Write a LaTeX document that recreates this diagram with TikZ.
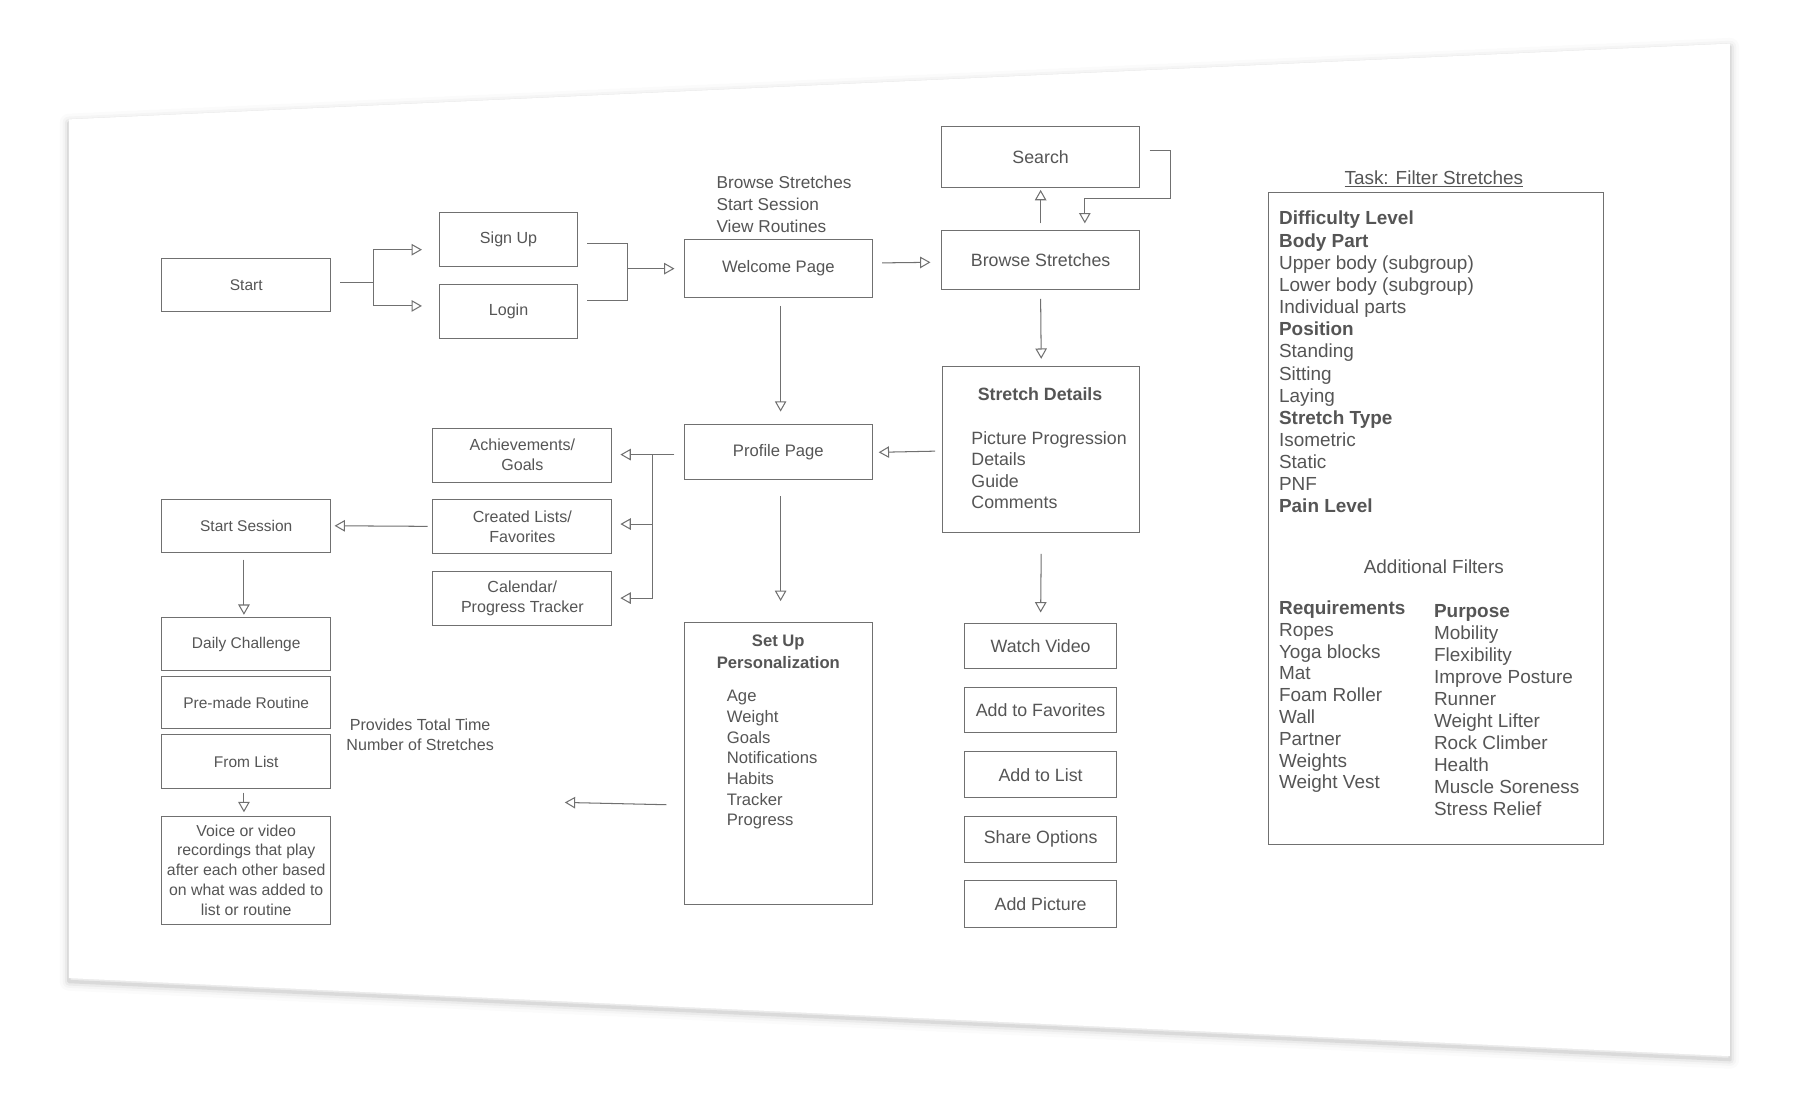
\documentclass[tikz,border=0pt]{standalone}
\usepackage{fontspec}
\setmainfont{Liberation Sans}
\usepackage{tikz}
\usetikzlibrary{arrows.meta,calc}
\definecolor{inkgray}{HTML}{555555}
\definecolor{linegray}{HTML}{707070}
\newcommand{\fs}[2]{\fontsize{#1}{#2}\selectfont}
\tikzset{
  box/.style={draw=linegray, line width=0.9pt, fill=white, text=inkgray, align=center, inner sep=0pt},
  txt/.style={text=inkgray, inner sep=0pt},
  link/.style={draw=linegray, line width=0.9pt},
  arr/.style={link, -{Triangle[open, length=9pt, width=10pt]}},
}

\begin{document}
\begin{tikzpicture}[x=1pt, y=-1pt]
\useasboundingbox (0,0) rectangle (1568,961.7);

% sheet and its shadow
\foreach \w/\o in {16/0.015, 11/0.025, 7/0.04, 3/0.07}
  \draw[line width=\w pt, draw=black, opacity=\o, line join=round] (60,107) -- (1507,41) -- (1507,923) -- (60,855) -- cycle;
\fill[white] (60,104) -- (1507,38) -- (1507,920) -- (60,852) -- cycle;

\node[box, minimum width=147pt, minimum height=46pt, font=\fs{13.5}{16}] (start) at (214.5,248) {Start};
\node[box, minimum width=120pt, minimum height=47pt, font=\fs{14}{17}] (signup) at (443,208.5) {Sign Up};
\node[box, minimum width=120pt, minimum height=47pt, font=\fs{14}{17}] (login) at (443,271.5) {Login};
\node[box, minimum width=164pt, minimum height=50pt, font=\fs{14.5}{17}] (welcome) at (678,234) {Welcome Page};
\node[txt, align=left, anchor=west, font=\fs{15}{19.5}] (menu) at (624,178) {Browse Stretches\\Start Session\\View Routines};

\node[box, minimum width=173pt, minimum height=53pt, font=\fs{15.5}{18}] (search) at (906.5,136.5) {Search};
\node[box, minimum width=173pt, minimum height=51pt, font=\fs{15.5}{18}] (browse) at (906.5,226.5) {Browse Stretches};
\node[box, minimum width=172pt, minimum height=145pt] (details) at (907,391.5) {};
\node[txt, font=\bfseries\fs{15.5}{18}] (detailtitle) at (906,343) {Stretch Details};
\node[txt, align=left, anchor=west, font=\fs{15.5}{18.4}] (detaillist) at (846,409.5) {Picture Progression\\Details\\Guide\\Comments};

\node[box, minimum width=164pt, minimum height=48pt, font=\fs{14.5}{17}] (profile) at (678,394) {Profile Page};
\node[box, minimum width=156pt, minimum height=47pt, font=\fs{14}{17.5}] (achieve) at (455,396.5) {Achievements/\\Goals};
\node[box, minimum width=156pt, minimum height=47pt, font=\fs{14}{17.5}] (created) at (455,458.5) {Created Lists/\\Favorites};
\node[box, minimum width=156pt, minimum height=47pt, font=\fs{14}{17.5}] (calendar) at (455,521.5) {Calendar/\\Progress Tracker};

\node[box, minimum width=147pt, minimum height=46pt, font=\fs{13.5}{16}] (session) at (214.5,458) {Start Session};
\node[box, minimum width=147pt, minimum height=46pt, font=\fs{13.5}{16}] (daily) at (214.5,561) {Daily Challenge};
\node[box, minimum width=147pt, minimum height=46pt, font=\fs{13.5}{16}] (premade) at (214.5,612) {Pre-made Routine};
\node[box, minimum width=147pt, minimum height=47pt, font=\fs{13.5}{16}] (fromlist) at (214.5,663.5) {From List};
\node[box, minimum width=147pt, minimum height=94pt, font=\fs{13.8}{17.3}] (voice) at (214.5,758) {Voice or video\\recordings that play\\after each other based\\on what was added to\\list or routine};
\node[txt, align=center, font=\fs{14}{17}] (provides) at (366,640) {Provides Total Time\\Number of Stretches};

\node[box, minimum width=164pt, minimum height=246pt] (setup) at (678,665) {};
\node[txt, align=center, font=\bfseries\fs{14.5}{19}] (setuptitle) at (678,567.5) {Set Up\\Personalization};
\node[txt, align=left, anchor=west, font=\fs{14.5}{18}] (setuplist) at (633,662) {Age\\Weight\\Goals\\Notifications\\Habits\\Tracker\\Progress};

\node[box, minimum width=133pt, minimum height=39pt, font=\fs{15.5}{18}] (watch) at (906.5,562.5) {Watch Video};
\node[box, minimum width=133pt, minimum height=39pt, font=\fs{15.5}{18}] (addfav) at (906.5,618.5) {Add to Favorites};
\node[box, minimum width=133pt, minimum height=40pt, font=\fs{15.5}{18}] (addlist) at (906.5,675) {Add to List};
\node[box, minimum width=133pt, minimum height=40pt, font=\fs{15.5}{18}] (share) at (906.5,731) {Share Options};
\node[box, minimum width=133pt, minimum height=41pt, font=\fs{15.5}{18}] (addpic) at (906.5,787.5) {Add Picture};

\node[box, minimum width=292pt, minimum height=568pt] (task) at (1251,452) {};
\node[txt, font=\fs{16.5}{19}] (tasktitle) at (1249,156) {\underline{Task: Filter Stretches}};
\node[txt, align=left, anchor=west, font=\fs{16.5}{19.3}] (filters) at (1114,315.5) {\textbf{Difficulty Level}\\\textbf{Body Part}\\Upper body (subgroup)\\Lower body (subgroup)\\Individual parts\\\textbf{Position}\\Standing\\Sitting\\Laying\\\textbf{Stretch Type}\\Isometric\\Static\\PNF\\\textbf{Pain Level}};
\node[txt, font=\fs{16.5}{19}] (additional) at (1249,494) {Additional Filters};
\node[txt, align=left, anchor=west, font=\fs{16.5}{19}] (needs) at (1114,607) {\textbf{Requirements}\\Ropes\\Yoga blocks\\Mat\\Foam Roller\\Wall\\Partner\\Weights\\Weight Vest};
\node[txt, align=left, anchor=west, font=\fs{16.5}{19.2}] (purpose) at (1249,618.5) {\textbf{Purpose}\\Mobility\\Flexibility\\Improve Posture\\Runner\\Weight Lifter\\Rock Climber\\Health\\Muscle Soreness\\Stress Relief};

\coordinate (split1) at (325,246);
\coordinate (merge1) at (547,234);
\coordinate (split2) at (568,396);
\coordinate (loose) at (492,699);

\draw[link] ($(start.east)+(8,-2)$) -- (split1);
\draw[arr] (split1) |- ($(signup.west)+(-15,9)$);
\draw[arr] (split1) |- ($(login.west)+(-15,-5)$);
\draw[link] ($(signup.east)+(8,4)$) -| (merge1);
\draw[link] ($(login.east)+(8,-10)$) -| (merge1);
\draw[arr] (merge1) -- ($(welcome.west)+(-8,0)$);
\draw[arr] ($(welcome.east)+(8,-5)$) -- ($(browse.west)+(-9,2)$);
\draw[arr] ($(browse.north)+(0,-6)$) -- ($(search.south)+(0,2)$);
\draw[arr] ($(search.east)+(8,-5)$) -- ++(18,0) -- ++(0,41) -| ($(browse.north)+(38.5,-6)$);
\draw[arr] ($(browse.south)+(0,8)$) -- ($(details.north)+(0,-6)$);
\draw[arr] ($(details.west)+(-6,1.5)$) -- ($(profile.east)+(5,0)$);
\draw[arr] ($(welcome.south)+(2,7)$) -- ($(profile.north)+(2,-11)$);
\draw[link] ($(profile.west)+(-8,2)$) -- (split2);
\draw[arr] (split2) -- ($(achieve.east)+(7,-0.5)$);
\draw[arr] (split2) |- ($(created.east)+(7,-2)$);
\draw[arr] (split2) |- ($(calendar.east)+(7,-0.5)$);
\draw[arr] ($(created.west)+(-4,0)$) -- ($(session.east)+(3,0)$);
\draw[arr] ($(session.south)+(-2,6)$) -- ($(daily.north)+(-2,-2)$);
\draw[arr] ($(fromlist.south)+(-2,3)$) -- ($(voice.north)+(-2,-3)$);
\draw[arr] ($(profile.south)+(2,14)$) -- ($(setup.north)+(2,-18)$);
\draw[arr] ($(setup.west)+(-15,36)$) -- (loose);
\draw[arr] ($(details.south)+(0,18)$) -- ($(watch.north)+(0,-9)$);
\end{tikzpicture}
\end{document}
